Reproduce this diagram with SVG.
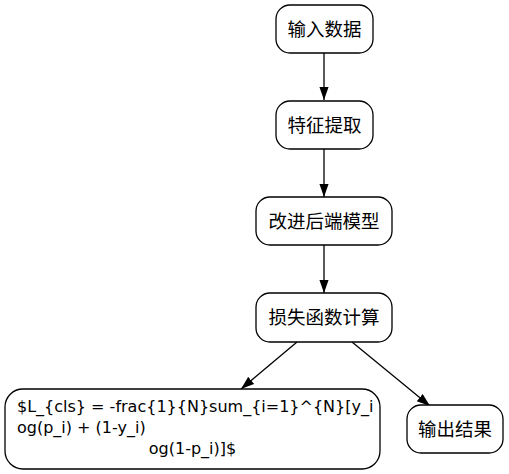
<svg xmlns="http://www.w3.org/2000/svg" width="509" height="474" viewBox="0 0 509 474">
<defs>
<style>
.node rect{fill:#fff;stroke:#000;stroke-width:1.3}
.cjk{font-family:"Noto Sans CJK SC","Noto Sans",sans-serif;font-size:18.5px;text-anchor:middle;fill:#000}
.f{font-family:"DejaVu Sans",sans-serif;font-size:16px;fill:#000}
.edges line{stroke:#000;stroke-width:1.3}
</style>
<marker id="ah" markerUnits="userSpaceOnUse" markerWidth="14" markerHeight="10" refX="13.3" refY="4.67" orient="auto">
<path d="M0,0 L13.3,4.67 L0,9.33 z" fill="#000"/>
</marker>
</defs>
<rect width="509" height="474" fill="#fff"/>
<g class="edges">
<line x1="324" y1="53" x2="324" y2="100" marker-end="url(#ah)"/>
<line x1="324" y1="149" x2="324" y2="197" marker-end="url(#ah)"/>
<line x1="324" y1="245" x2="324" y2="293" marker-end="url(#ah)"/>
<line x1="297" y1="342" x2="241" y2="389" marker-end="url(#ah)"/>
<line x1="352" y1="342" x2="430" y2="406" marker-end="url(#ah)"/>
</g>
<g id="n1" class="node"><rect x="276" y="5" width="97" height="48" rx="14"/><text class="cjk" x="324.5" y="36">输入数据</text></g>
<g id="n2" class="node"><rect x="276" y="101" width="97" height="48" rx="14"/><text class="cjk" x="324.5" y="132">特征提取</text></g>
<g id="n3" class="node"><rect x="256" y="197" width="136" height="48" rx="14"/><text class="cjk" x="324" y="228">改进后端模型</text></g>
<g id="n4" class="node"><rect x="256" y="293" width="136" height="49" rx="14"/><text class="cjk" x="324" y="324">损失函数计算</text></g>
<g id="n5" class="node"><rect x="5" y="389" width="375" height="80" rx="18"/>
<text class="f" x="17" y="412">$L_{cls} = -frac{1}{N}sum_{i=1}^{N}[y_i</text>
<text class="f" x="17" y="433">og(p_i) + (1-y_i)</text>
<text class="f" x="192.5" y="454" text-anchor="middle">og(1-p_i)]$</text>
</g>
<g id="n6" class="node"><rect x="407" y="405" width="96" height="48" rx="14"/><text class="cjk" x="455" y="436">输出结果</text></g>
</svg>
